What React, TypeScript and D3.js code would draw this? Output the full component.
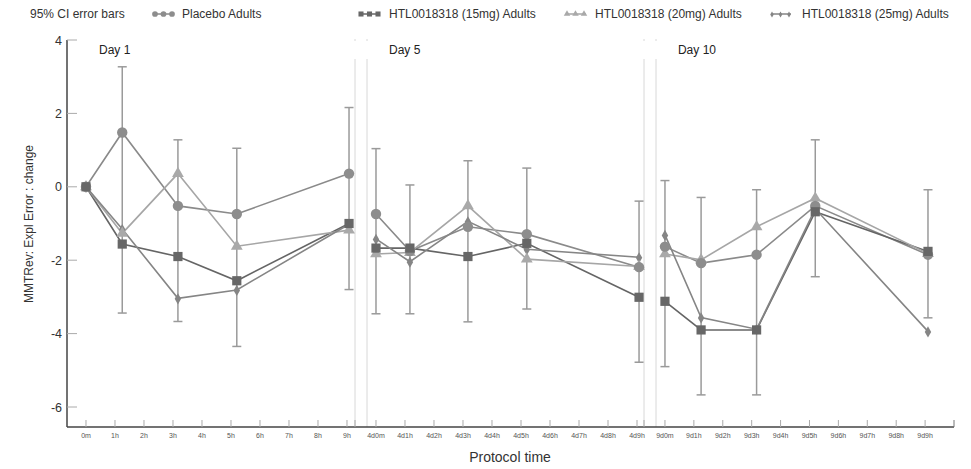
import React from "react";
import * as d3 from "d3";

// ---- data ----
const days = ["Day 1", "Day 5", "Day 10"];
const tickPrefixes = ["", "4d", "9d"];
const tickHours = [0, 1, 2, 3, 4, 5, 6, 7, 8, 9];
const timesDay1 = [0, 1.25, 3.17, 5.2, 9.07];
const timesDay5 = [0, 1.17, 3.17, 5.2, 9.07];
const timesDay10 = [0, 1.25, 3.17, 5.2, 9.1];
const seriesNames = [
  "Placebo Adults",
  "HTL0018318 (15mg) Adults",
  "HTL0018318 (20mg) Adults",
  "HTL0018318 (25mg) Adults",
];
// values per day panel
const placebo = [
  [0, 1.48, -0.52, -0.74, 0.36],
  [-0.74, -1.75, -1.09, -1.29, -2.19],
  [-1.63, -2.08, -1.85, -0.52, -1.85],
];
const dose15 = [
  [0, -1.56, -1.9, -2.56, -1.0],
  [-1.67, -1.67, -1.9, -1.54, -3.01],
  [-3.12, -3.9, -3.9, -0.68, -1.76],
];
const dose20 = [
  [0, -1.27, 0.36, -1.62, -1.18],
  [-1.83, -1.79, -0.52, -1.97, -2.17],
  [-1.83, -1.99, -1.09, -0.31, -1.82],
];
const dose25 = [
  [0, -1.15, -3.04, -2.81, -1.02],
  [-1.42, -2.04, -0.94, -1.7, -1.92],
  [-1.31, -3.56, -3.88, -0.6, -3.94],
];
// 95% CI half widths
const ciPlacebo = [
  [0, 1.79, 1.8, 1.79, 1.8],
  [1.78, 1.8, 1.8, 1.8, 1.8],
  [1.8, 1.79, 1.77, 1.8, 1.77],
];
const ci15 = [
  [0, 1.88, 1.77, 1.79, 1.8],
  [1.79, 1.79, 1.78, 1.79, 1.77],
  [1.78, 1.77, 1.77, 1.77, 1.81],
];
const yTicks = [4, 2, 0, -2, -4, -6];

const W = 971;
const H = 469;
const top = 40;
const bottom = 427;
const axisX = 67;
// panel pixel extents and hour domains
const panels = [
  { left: axisX, right: 355, h0: -0.655, h1: 9.276 },
  { left: 367, right: 644, h0: -0.31, h1: 9.241 },
  { left: 656, right: 954, h0: -0.31, h1: 10.0 },
];
const times = [timesDay1, timesDay5, timesDay10];

const colors = ["#8d8d8d", "#676767", "#a9a9a9", "#858585"];
const lineColors = ["#8a8a8a", "#656565", "#a6a6a6", "#858585"];
const ebColor = "#9a9a9a";
const font = "Liberation Sans, Arial, sans-serif";

function Marker({ kind, x, y, s = 1 }: { kind: number; x: number; y: number; s?: number }) {
  const c = colors[kind];
  if (kind === 0) return <circle cx={x} cy={y} r={5.2 * s} fill={c} />;
  if (kind === 1)
    return <rect x={x - 4.6 * s} y={y - 4.6 * s} width={9.2 * s} height={9.2 * s} fill={c} />;
  if (kind === 2) {
    const sym = d3.symbol(d3.symbolTriangle, 60 * s * s)();
    return <path d={sym as string} transform={`translate(${x},${y})`} fill={c} />;
  }
  const sym = d3.symbol(d3.symbolDiamond, 36 * s * s)();
  return <path d={sym as string} transform={`translate(${x},${y + 0.5})`} fill={c} />;
}

export default function App() {
  const y = d3.scaleLinear().domain([4, -6]).range([top, 407]);
  const allSeries = [placebo, dose15, dose20, dose25];
  const line = d3.line<[number, number]>();

  const legendItems = [
    { x: 152, tx: 182 },
    { x: 358, tx: 389 },
    { x: 564, tx: 595 },
    { x: 769, tx: 802 },
  ];

  return (
    <svg width={W} height={H} style={{ position: "absolute", left: 0, top: 0, background: "#fff" }} fontFamily={font}>
      {/* legend */}
      <text x={30} y={18} fontSize={12} fill="#333">95% CI error bars</text>
      {legendItems.map((li, i) => (
        <g key={i}>
          <line x1={li.x + 2} x2={li.x + 22} y1={14} y2={14} stroke={lineColors[i]} strokeWidth={1.5} />
          {[0, 1, 2].map((k) => (
            <Marker key={k} kind={i} x={li.x + 3 + k * 8.5} y={14} s={0.55} />
          ))}
          <text x={li.tx} y={18} fontSize={12} fill="#333">{seriesNames[i]}</text>
        </g>
      ))}

      {/* panel separators */}
      {panels.map((p, i) => (
        <g key={i}>
          {i > 0 && (
            <>
              <line x1={p.left} x2={p.left} y1={59} y2={bottom} stroke="#d8d8d8" strokeWidth={1} />
              <line x1={p.left} x2={p.left} y1={39} y2={41} stroke="#d8d8d8" strokeWidth={1} />
            </>
          )}
          {i < 2 && (
            <>
              <line x1={p.right} x2={p.right} y1={59} y2={bottom} stroke="#d8d8d8" strokeWidth={1} />
              <line x1={p.right} x2={p.right} y1={39} y2={41} stroke="#d8d8d8" strokeWidth={1} />
            </>
          )}
        </g>
      ))}

      {/* y axis */}
      <line x1={axisX} x2={axisX} y1={top} y2={bottom} stroke="#444" strokeWidth={1.5} />
      {yTicks.map((t) => (
        <g key={t}>
          <line x1={axisX} x2={axisX + 10} y1={y(t)} y2={y(t)} stroke="#aaa" strokeWidth={1} />
          <text x={62} y={y(t) + 4.5} fontSize={12.5} textAnchor="end" fill="#333">{t}</text>
        </g>
      ))}
      <text
        transform={`translate(33,224) rotate(-90)`}
        fontSize={12}
        textAnchor="middle"
        fill="#333"
      >
        MMTRev: Expl Error : change
      </text>

      {/* x axis */}
      <line x1={axisX} x2={954} y1={bottom} y2={bottom} stroke="#444" strokeWidth={1.5} />
      {panels.map((p, pi) => {
        const x = d3.scaleLinear().domain([p.h0, p.h1]).range([p.left, p.right]);
        return (
          <g key={pi}>
            {tickHours.map((h) => (
              <g key={h}>
                <line x1={x(h)} x2={x(h)} y1={bottom} y2={bottom - 7} stroke="#aaa" strokeWidth={1} />
                <text x={x(h)} y={438} fontSize={7} textAnchor="middle" fill="#555">
                  {tickPrefixes[pi] + h + (h === 0 ? "m" : "h")}
                </text>
              </g>
            ))}
            <line x1={p.right} x2={p.right} y1={bottom} y2={bottom - 7} stroke={pi === 2 ? "#777" : "#aaa"} />
            <text x={pi === 0 ? 99 : x(0) + 13} y={54} fontSize={12} fill="#222">{days[pi]}</text>

            {/* error bars */}
            {times[pi].map((t, k) => {
              const hi = placebo[pi][k] + ciPlacebo[pi][k];
              const lo = dose15[pi][k] - ci15[pi][k];
              if (hi - lo < 0.01) return null;
              const xx = x(t);
              return (
                <g key={k} stroke={ebColor} strokeWidth={1.5}>
                  <line x1={xx} x2={xx} y1={y(hi)} y2={y(lo)} />
                  <line x1={xx - 4.5} x2={xx + 4.5} y1={y(hi)} y2={y(hi)} />
                  <line x1={xx - 4.5} x2={xx + 4.5} y1={y(lo)} y2={y(lo)} />
                </g>
              );
            })}

            {/* lines */}
            {allSeries.map((s, si) => (
              <path
                key={si}
                d={line(times[pi].map((t, k) => [x(t), y(s[pi][k])] as [number, number])) as string}
                fill="none"
                stroke={lineColors[si]}
                strokeWidth={1.6}
              />
            ))}
            {/* markers */}
            {[3, 2, 0, 1].map((si) =>
              times[pi].map((t, k) => (
                <Marker key={`${si}-${k}`} kind={si} x={x(t)} y={y(allSeries[si][pi][k])} />
              ))
            )}
          </g>
        );
      })}

      <text x={510} y={462} fontSize={14} textAnchor="middle" fill="#333">Protocol time</text>
    </svg>
  );
}
